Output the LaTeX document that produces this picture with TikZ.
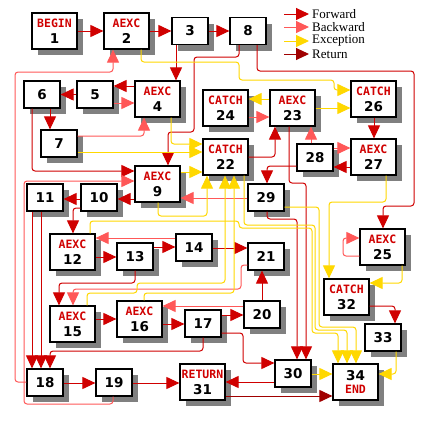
\documentclass[tikz,border=0pt]{standalone}
\usepackage{fontspec}
\usetikzlibrary{arrows.meta,shadows}
\newfontfamily\lblfont{DejaVu Sans Mono}
\newfontfamily\numfont{DejaVu Sans}
\newfontfamily\legfont{Liberation Serif}
\definecolor{cfwd}{RGB}{208,0,0}
\definecolor{cbwd}{RGB}{255,88,88}
\definecolor{cexc}{RGB}{255,216,0}
\definecolor{cret}{RGB}{160,0,0}
\definecolor{shd}{RGB}{128,128,128}
\definecolor{lblred}{RGB}{208,0,0}
\newcommand\lbl[1]{{\lblfont\bfseries\fontsize{11.5pt}{12pt}\selectfont\color{lblred}#1}}
\tikzset{
 bx/.style={draw=black, line width=1.2pt, fill=white, inner sep=0pt, align=center,
   general shadow={fill=shd, shadow xshift=6pt, shadow yshift=-6pt},
   font={\fontsize{13.5pt}{16pt}\selectfont\numfont\bfseries}},
 smallbox/.style={bx, minimum width=36pt, minimum height=27pt},
 bigbox/.style={bx, minimum width=45pt, minimum height=36pt},
 wire/.style={line width=1pt, rounded corners=3pt, -{Triangle[length=13pt,width=12pt]}},
 fwd/.style={wire, draw=cfwd},
 bwd/.style={wire, draw=cbwd},
 exc/.style={wire, draw=cexc},
 ret/.style={wire, draw=cret},
 legtext/.style={anchor=west, inner sep=0pt, font={\legfont\fontsize{13pt}{14pt}\selectfont}},
}
\begin{document}
\begin{tikzpicture}[x=1pt,y=-1pt]
\fill[white] (0,0) rectangle (424,424);
\useasboundingbox (0,0) rectangle (424,424);
% boxes
\node[bigbox] (n1) at (54.5,31) {\lbl{BEGIN}\\1};
\node[bigbox] (n2) at (126.5,31) {\lbl{AEXC}\\2};
\node[smallbox] (n3) at (190,31) {3};
\node[smallbox] (n8) at (248,31) {8};
\node[smallbox] (n6) at (42,94.5) {6};
\node[smallbox] (n5) at (95,94.5) {5};
\node[bigbox] (n4) at (157.5,99) {\lbl{AEXC}\\4};
\node[smallbox] (n7) at (59,143.5) {7};
\node[bigbox] (n24) at (225.5,108) {\lbl{CATCH}\\24};
\node[bigbox] (n23) at (292.5,108) {\lbl{AEXC}\\23};
\node[bigbox] (n26) at (373.5,99) {\lbl{CATCH}\\26};
\node[bigbox] (n22) at (225.5,157) {\lbl{CATCH}\\22};
\node[smallbox] (n28) at (315,157.5) {28};
\node[bigbox] (n27) at (373.5,157) {\lbl{AEXC}\\27};
\node[bigbox] (n9) at (157.5,184) {\lbl{AEXC}\\9};
\node[smallbox] (n10) at (99,197.5) {10};
\node[smallbox] (n11) at (45,197.5) {11};
\node[smallbox] (n29) at (266,197.5) {29};
\node[bigbox] (n12) at (72.5,252) {\lbl{AEXC}\\12};
\node[smallbox] (n13) at (135,256.5) {13};
\node[smallbox] (n14) at (194,247.5) {14};
\node[smallbox] (n21) at (266,256.5) {21};
\node[bigbox] (n25) at (382.5,247) {\lbl{AEXC}\\25};
\node[bigbox] (n32) at (346.5,297) {\lbl{CATCH}\\32};
\node[bigbox] (n15) at (72.5,324) {\lbl{AEXC}\\15};
\node[bigbox] (n16) at (139.5,319) {\lbl{AEXC}\\16};
\node[smallbox] (n17) at (203,323.5) {17};
\node[smallbox] (n20) at (262,314.5) {20};
\node[smallbox] (n33) at (383,337.5) {33};
\node[smallbox] (n30) at (293,373.5) {30};
\node[bigbox] (n34) at (355.5,382) {34\\[-3pt]\lbl{END}};
\node[bigbox] (n31) at (202.5,382) {\lbl{RETURN}\\31};
\node[smallbox] (n18) at (45,382.5) {18};
\node[smallbox] (n19) at (114,382.5) {19};
% legend
\node[legtext] (lt1) at (312,14) {Forward};
\node[legtext] (lt2) at (312,27) {Backward};
\node[legtext] (lt3) at (312,41) {Exception};
\node[legtext] (lt4) at (312,54) {Return};
\coordinate (lf1) at (284,14);
\coordinate (lf2) at (284,27);
\coordinate (lf3) at (284,41);
\coordinate (lf4) at (284,54);
\draw[fwd] (lf1) -- ([xshift=-3pt]lt1.west);
\draw[bwd] (lf2) -- ([xshift=-3pt]lt2.west);
\draw[exc] (lf3) -- ([xshift=-3pt]lt3.west);
\draw[ret] (lf4) -- ([xshift=-3pt]lt4.west);
% forward edges
\draw[fwd] (n1) -- (n2);
\draw[fwd] (n2) -- (n3);
\draw[fwd] (n3) -- (n8);
\draw[fwd] (n3.south -| 176,0) -- (n4.north -| 176,0);
\draw[fwd] (n4.west |- 0,86) -- (n5.east |- 0,86);
\draw[fwd] (n5) -- (n6);
\draw[fwd] (n6.south -| 50,0) -- (n7.north -| 50,0);
\draw[fwd] (n6.south -| 32,0) |- (n9.west |- 0,171);
\draw[fwd] (n8.south -| 239,0) |- (194,57) |- (168,132) -- (n9.north -| 168,0);
\draw[fwd] (n8.south -| 257,0) |- (414,71) |- (383,206) -- (n25.north -| 383,0);
\draw[fwd] (n11.south -| 32,0) -- (n18.north -| 32,0);
\draw[fwd] (n11.south -| 41,0) -- (n18.north -| 41,0);
\draw[fwd] (n17.south -| 203,0) |- (50,351) -- (n18.north -| 50,0);
\draw[fwd] (n9.west |- 0,199) -- (n10.east |- 0,199);
\draw[fwd] (n10.west |- 0,199) -- (n11.east |- 0,199);
\draw[fwd] (n10.west |- 0,208) -| (n12.north -| 73,0);
\draw[fwd] (n12.east |- 0,257) -- (n13.west |- 0,257);
\draw[fwd] (n13.east |- 0,247) -- (n14.west |- 0,247);
\draw[fwd] (n14.east |- 0,248) -- (n21.west |- 0,248);
\draw[fwd] (n13.south -| 135,0) |- (59,283) -- (n15.north -| 59,0);
\draw[fwd] (n15.east |- 0,319) -- (n16.west |- 0,319);
\draw[fwd] (n16.east |- 0,324) -- (n17.west |- 0,324);
\draw[fwd] (n17.east |- 0,315) -- (n20.west |- 0,315);
\draw[fwd] (n17.east |- 0,333) -| (243,363) -- (n30.west |- 0,363);
\draw[fwd] (n20.north -| 262,0) -- (n21.south -| 262,0);
\draw[fwd] (n18.east |- 0,383) -- (n19.west |- 0,383);
\draw[fwd] (n19.east |- 0,383) -- (n31.west |- 0,383);
\draw[fwd] (n30.west |- 0,382) -- (n31.east |- 0,382);
\draw[fwd] (n32.east |- 0,306) -| (n33.north -| 395,0);
\draw[fwd] (n26.south -| 374,0) -- (n27.north -| 374,0);
\draw[fwd] (n27.west |- 0,167) -- (n28.east |- 0,167);
\draw[fwd] (n22.east |- 0,157) -| (n23.south -| 275,0);
\draw[fwd] (n28.west |- 0,166) -| (n29.north -| 267,0);
\draw[fwd] (n23.south -| 289,0) |- (306,183) -- (n30.north -| 306,0);
\draw[fwd] (n29.south -| 267,0) |- (297,219) -- (n30.north -| 297,0);
% return
\draw[ret] (n31.east |- 0,396) -- (n34.west |- 0,396);
% backward edges
\draw[bwd] (n5.east |- 0,103) -- (n4.west |- 0,103);
\draw[bwd] (n7.east |- 0,136) -| (n4.south -| 144,0);
\draw[bwd] (n18.west |- 0,382) -| (15,72) -| (n2.south -| 113,0);
\draw[bwd] (n19.south -| 113,0) |- (24,404) |- (n9.west |- 0,181);
\draw[bwd] (n29.west |- 0,198) -- (n9.east |- 0,198);
\draw[bwd] (n14.west |- 0,238) -- (n12.east |- 0,238);
\draw[bwd] (n21.west |- 0,265) -| (241,289) -| (n15.north -| 73,0);
\draw[bwd] (n20.west |- 0,306) -- (n16.east |- 0,306);
\draw[bwd] (n25.west |- 0,256) -| (343,238) -- (n25.west |- 0,238);
\draw[bwd] (n28.east |- 0,148) -- (n27.west |- 0,148);
\draw[bwd] (n28.north -| 311,0) -- (n23.south -| 311,0);
\draw[bwd] (n24.east |- 0,117) -- (n23.west |- 0,117);
% exception edges
\draw[exc] (n2.south -| 141,0) |- (239,62) |- (334,80) |- (n26.west |- 0,90);
\draw[exc] (n4.south -| 171,0) |- (n22.west |- 0,144);
\draw[exc] (n7.east |- 0,152) -- (n22.west |- 0,152);
\draw[exc] (n9.east |- 0,172) -- (n22.west |- 0,172);
\draw[exc] (n9.south -| 158,0) |- (207,216) -- (n22.south -| 207,0);
\draw[exc] (n15.north -| 87,0) |- (137,293) |- (225,283) -- (n22.south -| 225,0);
\draw[exc] (n16.north -| 144,0) |- (234,293) -- (n22.south -| 234,0);
\draw[exc] (n12.north -| 90,0) |- (239,221) |- (312,228) |- (338,333) -- (n34.north -| 338,0);
\draw[exc] (n22.south -| 244,0) |- (315,225) |- (347,330) -- (n34.north -| 347,0);
\draw[exc] (n29.east |- 0,207) -| (319,327) -| (n34.north -| 356,0);
\draw[exc] (n23.west |- 0,99) -- (n24.east |- 0,99);
\draw[exc] (n23.east |- 0,108) -- (n26.west |- 0,108);
\draw[exc] (n27.south -| 386,0) |- (329,202) -- (n32.north -| 329,0);
\draw[exc] (n25.south -| 402,0) |- (n32.east |- 0,283);
\draw[exc] (n30.east |- 0,374) -- (n34.west |- 0,374);
\draw[exc] (n33.south -| 396,0) |- (n34.east |- 0,374);
\end{tikzpicture}
\end{document}
